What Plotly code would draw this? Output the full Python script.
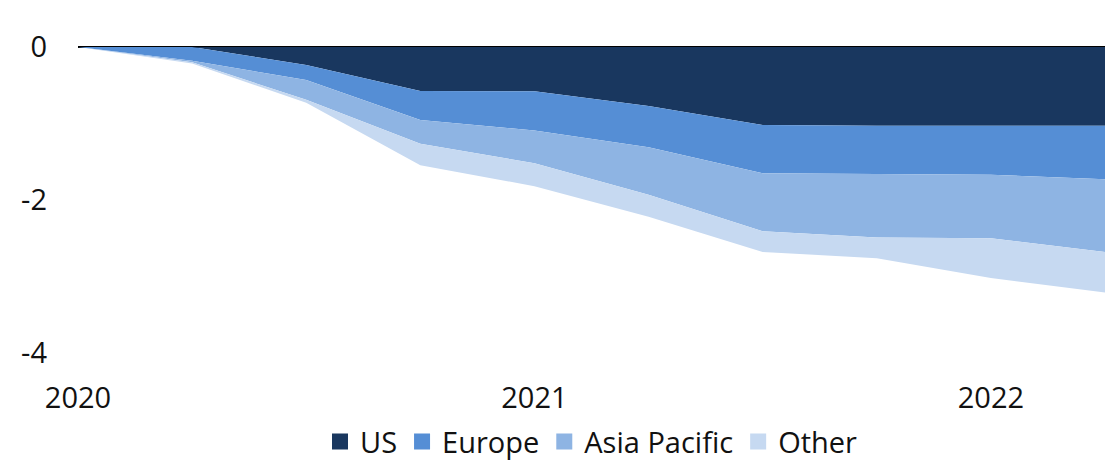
import plotly.graph_objects as go

quarters = ["2020 Q1", "2020 Q2", "2020 Q3", "2020 Q4", "2021 Q1", "2021 Q2",
            "2021 Q3", "2021 Q4", "2022 Q1", "2022 Q2"]
us = [0, 0, -0.235, -0.575, -0.58, -0.77, -1.02, -1.03, -1.03, -1.03]
europe = [0, -0.18, -0.195, -0.38, -0.51, -0.54, -0.63, -0.63, -0.64, -0.70]
asia_pacific = [0, -0.02, -0.26, -0.31, -0.43, -0.62, -0.76, -0.83, -0.83, -0.95]
other = [0, -0.015, -0.04, -0.28, -0.30, -0.29, -0.27, -0.27, -0.52, -0.53]

series_names = ["US", "Europe", "Asia Pacific", "Other"]
series_values = [us, europe, asia_pacific, other]
colors = ["#19375F", "#558ED5", "#8EB4E3", "#C6D9F1"]

x_tick_vals = ["2020 Q1", "2021 Q1", "2022 Q1"]
x_tick_text = ["2020", "2021", "2022"]
y_tick_vals = [-4, -2, 0]
y_tick_text = ["-4", "-2", "0"]

FONT = "Open Sans"

fig = go.Figure()
for name, vals, col in zip(series_names, series_values, colors):
    fig.add_trace(go.Scatter(
        x=quarters, y=vals, name=name, mode="lines",
        line=dict(width=0, color=col), fillcolor=col,
        stackgroup="one", showlegend=False, hoverinfo="skip",
    ))
for name, col in zip(series_names, colors):
    fig.add_trace(go.Scatter(
        x=[None], y=[None], name=name, mode="markers",
        marker=dict(symbol="square", size=19, color=col),
        showlegend=True,
    ))

fig.update_layout(
    width=1105, height=463,
    margin=dict(l=78, r=0, t=47, b=110, autoexpand=False),
    paper_bgcolor="white", plot_bgcolor="white",
    font=dict(family=FONT, size=29, color="#111111"),
    showlegend=True,
    legend=dict(orientation="h", x=0.5, xanchor="center",
                y=-0.29, yanchor="middle",
                font=dict(size=29), itemsizing="trace",
                traceorder="normal", bgcolor="rgba(0,0,0,0)",
                borderwidth=0),
    xaxis=dict(type="category", range=[0, 9], showgrid=False,
               zeroline=False, showline=False, automargin=False,
               tickmode="array", tickvals=x_tick_vals, ticktext=x_tick_text,
               ticks="", ticklabelstandoff=25),
    yaxis=dict(range=[-4, 0], showgrid=False, zeroline=True,
               zerolinecolor="black", zerolinewidth=2, showline=False,
               automargin=False,
               tickmode="array", tickvals=y_tick_vals, ticktext=y_tick_text,
               ticks="", ticklabelstandoff=30),
)

fig.write_html(
    "out.html",
    config={"displayModeBar": False},
    post_script="document.body.style.margin='0';document.body.style.padding='0';",
)
